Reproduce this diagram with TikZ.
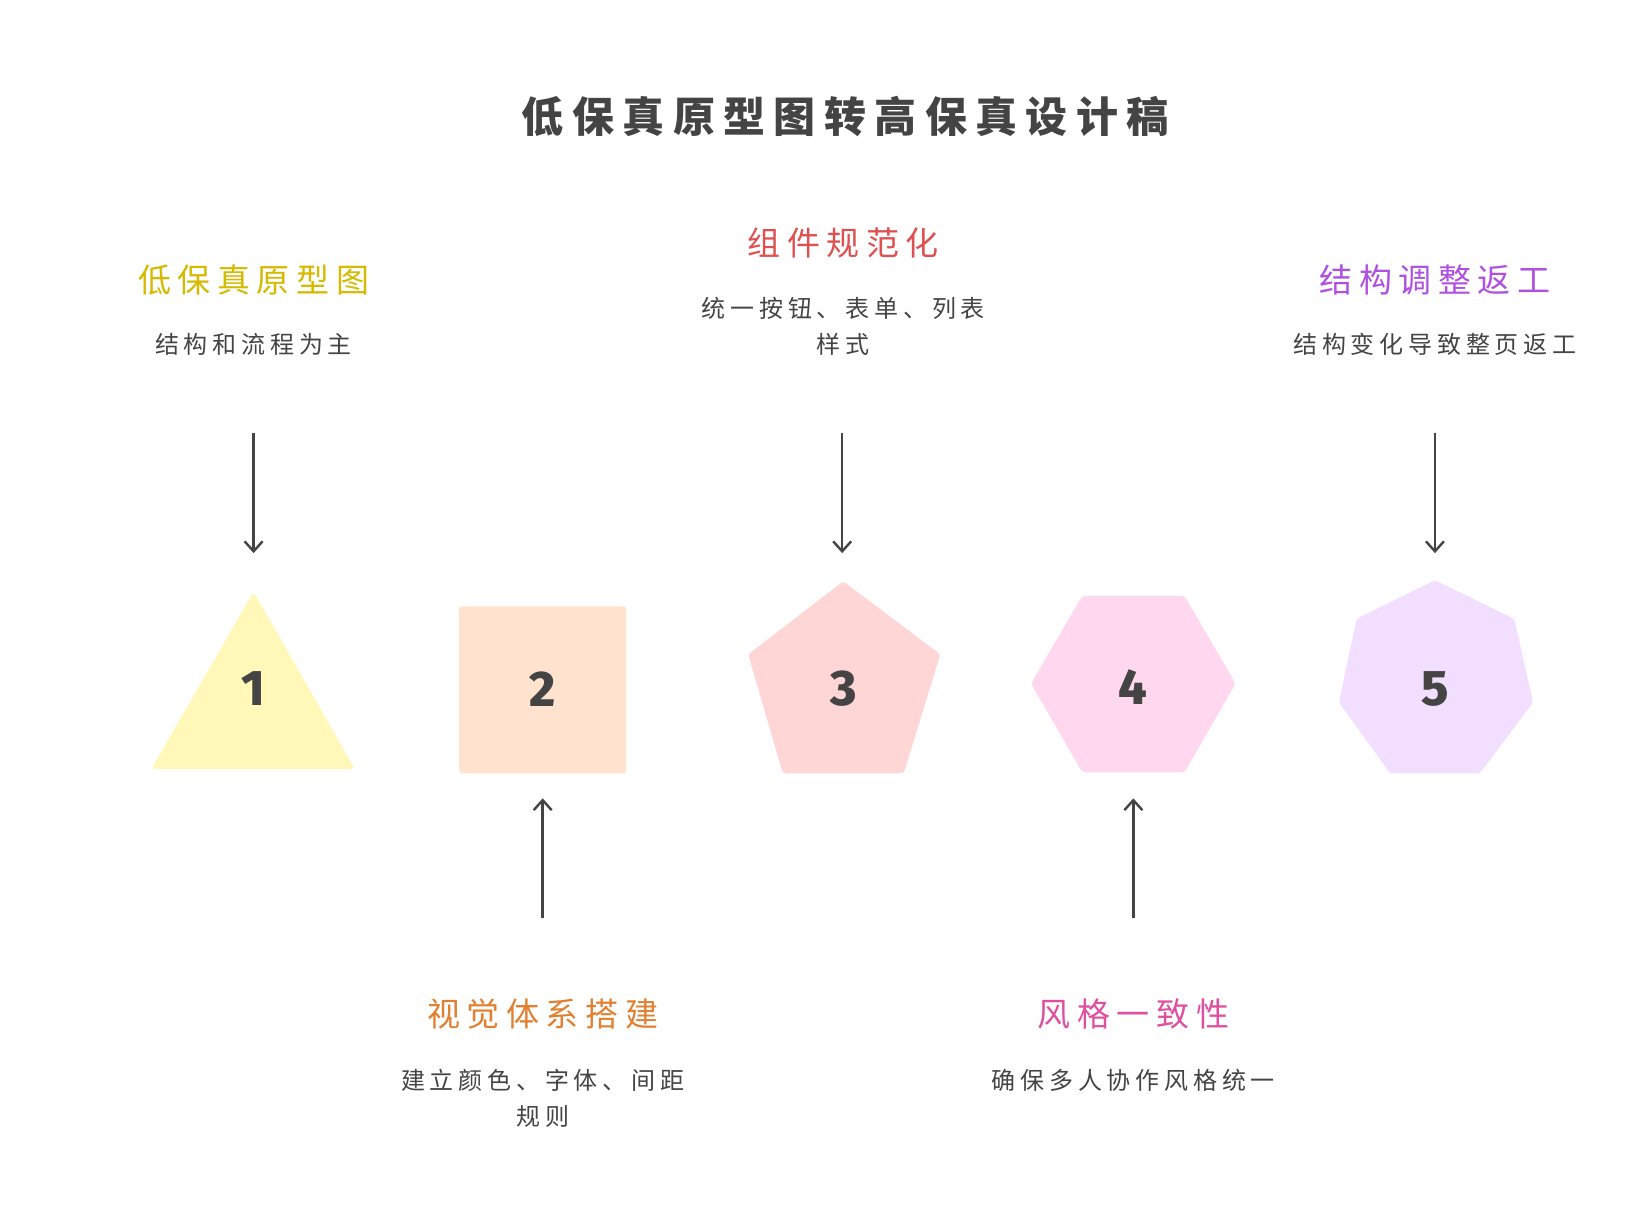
\documentclass[tikz,border=0pt]{standalone}
\usepackage{fontspec}
\setmainfont{Noto Sans CJK SC}[LetterSpace=20]
\newfontfamily\numf{Fira Sans ExtraBold}
\usetikzlibrary{arrows.meta}
\definecolor{ink}{HTML}{444444}
\begin{document}
\begin{tikzpicture}[x=1.0436pt,y=-1.0436pt,
  arr/.style={draw=ink,line width=2.4pt,-{Straight Barb[length=10pt,width=18pt,line width=2.4pt]}},
  ttl/.style={font=\fontsize{33}{38}\selectfont},
  desc/.style={font=\fontsize{24}{36}\selectfont,text=ink,align=center},
  num/.style={font=\numf\fontsize{50}{50}\selectfont,text=ink}]
\useasboundingbox[fill=white] (0,0) rectangle (1560,1157.5);
\node[font=\fontsize{42}{48}\selectfont\bfseries,text=ink] (title) at (810,112) {低保真原型图转高保真设计稿};
% shapes
\fill[rounded corners=4pt,fill={rgb,255:red,255;green,248;blue,184}] (243,567) -- (340,737) -- (145,737) -- cycle;
\fill[fill={rgb,255:red,255;green,227;blue,207},rounded corners=3pt] (440,581) rectangle (600,741);
\fill[fill={rgb,255:red,255;green,214;blue,214},rounded corners=3pt] (808,557) -- (901,627) -- (866,741) -- (750,741) -- (717,627) -- cycle;
\fill[fill={rgb,255:red,255;green,216;blue,240},rounded corners=3pt] (1037,571) -- (1135,571) -- (1184,655) -- (1135,740) -- (1037,740) -- (988,655) -- cycle;
\fill[fill={rgb,255:red,242;green,223;blue,255},rounded corners=3pt] (1375,556) -- (1451,593) -- (1469,673) -- (1418,741) -- (1332,741) -- (1283,673) -- (1300,593) -- cycle;
\node[num] (n1) at (243,660) {1};
\node[num] (n2) at (520,660) {2};
\node[num] (n3) at (808,660) {3};
\node[num] (n4) at (1086,658) {4};
\node[num] (n5) at (1375,660) {5};
% labels
\node[ttl,text={rgb,255:red,214;green,186;blue,0}] (l1) at (243,268) {低保真原型图};
\node[desc] (d1) at (243,330) {结构和流程为主};
\node[ttl,text={rgb,255:red,224;green,80;blue,80}] (l3) at (808,233) {组件规范化};
\node[desc] (d3) at (808,313) {统一按钮、表单、列表\\样式};
\node[ttl,text={rgb,255:red,176;green,80;blue,224}] (l5) at (1375,268) {结构调整返工};
\node[desc] (d5) at (1375,330) {结构变化导致整页返工};
\node[ttl,text={rgb,255:red,224;green,128;blue,48}] (l2) at (520,972) {视觉体系搭建};
\node[desc] (d2) at (520,1052) {建立颜色、字体、间距\\规则};
\node[ttl,text={rgb,255:red,224;green,80;blue,160}] (l4) at (1086,972) {风格一致性};
\node[desc] (d4) at (1086,1035) {确保多人协作风格统一};
% arrows
\coordinate (a1) at (243,415); \coordinate (b1) at (243,530);
\coordinate (a3) at (807,415); \coordinate (b3) at (807,530);
\coordinate (a5) at (1375,415); \coordinate (b5) at (1375,530);
\coordinate (a2) at (520,880); \coordinate (b2) at (520,765);
\coordinate (a4) at (1086,880); \coordinate (b4) at (1086,765);
\foreach \i in {1,...,5} \draw[arr] (a\i) -- (b\i);
\end{tikzpicture}
\end{document}
